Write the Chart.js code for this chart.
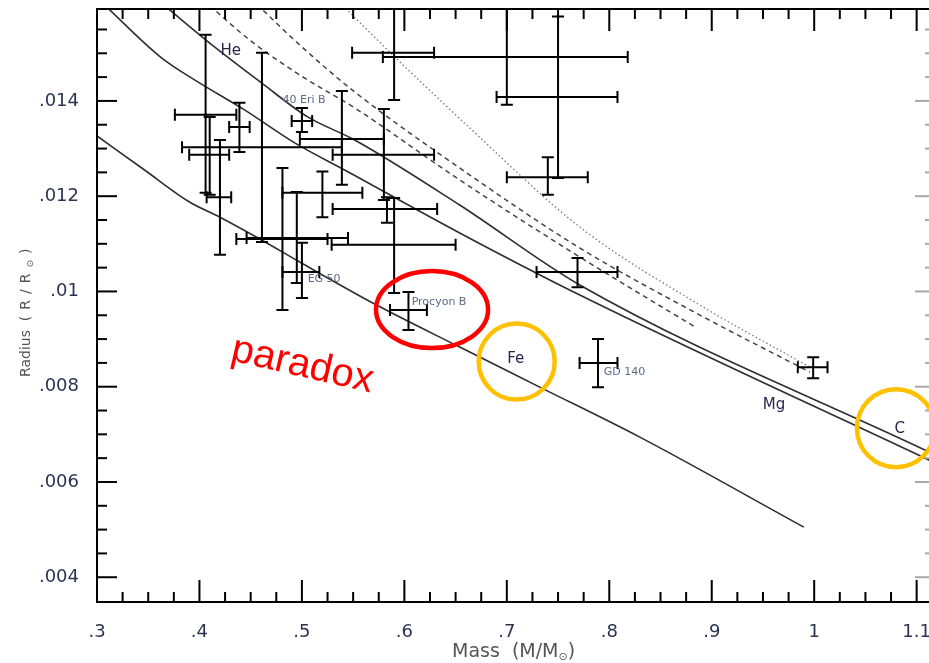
<!DOCTYPE html>
<html>
<head>
<meta charset="utf-8">
<script src="https://cdn.jsdelivr.net/npm/chart.js@4.4.0/dist/chart.umd.min.js"></script>
<style>
  html, body { margin: 0; padding: 0; background: #fff; overflow: hidden; }
</style>
</head>
<body>
<canvas id="mrChart" width="932" height="663"></canvas>
<script>
// tick values and labels
const xTicks = [0.3, 0.4, 0.5, 0.6, 0.7, 0.8, 0.9, 1.0, 1.1];
const xTickLabels = ['.3', '.4', '.5', '.6', '.7', '.8', '.9', '1', '1.1'];
const yTicks = [0.004, 0.006, 0.008, 0.010, 0.012, 0.014];
const yTickLabels = ['.004', '.006', '.008', '.01', '.012', '.014'];

// theoretical mass-radius curves (mass in M_sun, radius in R_sun)
const cMass = [0.366, 0.4147, 0.4606, 0.5056, 0.5515, 0.654, 0.7712, 1.115];
const cRadius = [0.01600, 0.015134, 0.014378, 0.013664, 0.013181, 0.011815, 0.010135, 0.00660];
const mgMass = [0.308, 0.363, 0.3952, 0.444, 0.4929, 0.5417, 0.654, 0.7712, 1.115];
const mgRadius = [0.01600, 0.014903, 0.014441, 0.013811, 0.013118, 0.012550, 0.011227, 0.009924, 0.00643];
const feMass = [0.3, 0.3464, 0.3903, 0.4196, 0.4606, 0.4978, 0.5729, 0.654, 0.7321, 0.8298, 0.9899];
const feRadius = [0.013265, 0.012550, 0.011878, 0.011563, 0.011080, 0.010618, 0.009714, 0.008832, 0.007992, 0.006941, 0.005051];
// dashed and dotted (warm models)
const hotAMass = [0.456, 0.4978, 0.5515, 0.654, 0.7712, 0.8884, 0.9958];
const hotARadius = [0.01603, 0.015176, 0.014189, 0.012592, 0.010912, 0.009504, 0.008307];
const hotBMass = [0.410, 0.4489, 0.4978, 0.5515, 0.654, 0.7712, 0.8855];
const hotBRadius = [0.01600, 0.015281, 0.014546, 0.013853, 0.012340, 0.010723, 0.009231];
const dotMass = [0.540, 0.5856, 0.6638, 0.7712, 0.8884, 0.9958];
const dotRadius = [0.01600, 0.015029, 0.013433, 0.011353, 0.009714, 0.008412];

// observed white dwarfs with error bars
const starMass = [0.406, 0.439, 0.410, 0.420, 0.461, 0.481, 0.495, 0.500, 0.520, 0.539, 0.500, 0.580, 0.583, 0.590, 0.590, 0.700, 0.750, 0.740, 0.604, 0.769, 0.789, 0.999];
const starRadius = [0.01371, 0.01345, 0.01287, 0.01198, 0.01303, 0.01110, 0.01112, 0.01041, 0.01207, 0.01320, 0.01358, 0.01287, 0.01173, 0.01098, 0.01501, 0.01492, 0.01408, 0.01240, 0.00961, 0.01041, 0.00850, 0.00841];
const starMassLo = [0.376, 0.429, 0.390, 0.407, 0.383, 0.436, 0.446, 0.481, 0.481, 0.498, 0.490, 0.530, 0.530, 0.529, 0.549, 0.579, 0.690, 0.700, 0.586, 0.729, 0.771, 0.984];
const starMassHi = [0.436, 0.449, 0.429, 0.431, 0.539, 0.525, 0.545, 0.517, 0.559, 0.580, 0.510, 0.629, 0.632, 0.650, 0.629, 0.818, 0.808, 0.779, 0.622, 0.808, 0.808, 1.013];
const starRadiusLo = [0.01207, 0.01293, 0.01203, 0.01077, 0.01104, 0.00961, 0.01018, 0.00986, 0.01156, 0.01224, 0.01335, 0.01192, 0.01144, 0.00997, 0.01402, 0.01392, 0.01238, 0.01203, 0.00919, 0.01009, 0.00799, 0.00818];
const starRadiusHi = [0.01539, 0.01396, 0.01366, 0.01318, 0.01501, 0.01259, 0.01209, 0.01102, 0.01252, 0.01421, 0.01385, 0.01383, 0.01198, 0.01196, 0.0163, 0.0163, 0.01577, 0.01282, 0.00999, 0.01070, 0.00900, 0.00862];

// star names (left edge / vertical middle of the text)
const starNames = ['40 Eri B', 'EG 50', 'Procyon B', 'GD 140'];
const starNameMass = [0.481, 0.5056, 0.6071, 0.7946];
const starNameRadius = [0.01402, 0.01026, 0.00978, 0.00831];

// composition labels (centre of text)
const curveNames = ['He', 'Fe', 'Mg', 'C'];
const curveNameMass = [0.4306, 0.7087, 0.9607, 1.0836];
const curveNameRadius = [0.01505, 0.00858, 0.00762, 0.00711];

// hand-drawn annotations
const ringMass = [0.627, 0.7096, 1.0798];
const ringRadius = [0.00962, 0.008527, 0.00713];
const ringHalfMass = [0.0547, 0.0371, 0.0381];
const ringHalfRadius = [0.000809, 0.000798, 0.000819];
const ringColors = ['#ff0000', '#ffc000', '#ffc000'];
const noteText = 'paradox';
const noteMass = 0.4294;
const noteRadius = 0.00856;

function pts(ms, rs) {
    return ms.map((m, i) => ({ x: m, y: rs[i] }));
}

function curve(ms, rs, color, dash, width) {
    return {
        data: pts(ms, rs),
        showLine: true,
        pointRadius: 0,
        borderColor: color,
        borderWidth: width,
        borderDash: dash,
        cubicInterpolationMode: 'monotone',
        fill: false
    };
}

// draw frame, inward ticks, error bars, labels and annotations
const decor = {
    id: 'decor',
    afterDatasetsDraw(chart) {
        const { ctx, chartArea: a, scales: { x, y } } = chart;

        // error bars
        ctx.save();
        ctx.beginPath();
        ctx.rect(a.left, a.top, a.right - a.left, a.bottom - a.top);
        ctx.clip();
        ctx.strokeStyle = '#000';
        ctx.lineWidth = 2;
        const cap = 6;
        for (let i = 0; i < starMass.length; i++) {
            const px = x.getPixelForValue(starMass[i]);
            const py = y.getPixelForValue(starRadius[i]);
            const x0 = x.getPixelForValue(starMassLo[i]);
            const x1 = x.getPixelForValue(starMassHi[i]);
            const y0 = y.getPixelForValue(starRadiusHi[i]);
            const y1 = y.getPixelForValue(starRadiusLo[i]);
            ctx.beginPath();
            ctx.moveTo(x0, py); ctx.lineTo(x1, py);
            ctx.moveTo(px, y0); ctx.lineTo(px, y1);
            ctx.moveTo(x0, py - cap); ctx.lineTo(x0, py + cap);
            ctx.moveTo(x1, py - cap); ctx.lineTo(x1, py + cap);
            ctx.moveTo(px - cap, y0); ctx.lineTo(px + cap, y0);
            ctx.moveTo(px - cap, y1); ctx.lineTo(px + cap, y1);
            ctx.stroke();
        }
        ctx.restore();

        // frame
        ctx.save();
        ctx.strokeStyle = '#000';
        ctx.lineWidth = 2;
        ctx.beginPath();
        ctx.moveTo(a.right + 2, a.top); ctx.lineTo(a.left, a.top);
        ctx.lineTo(a.left, a.bottom); ctx.lineTo(a.right + 2, a.bottom);
        ctx.stroke();

        // x ticks, top and bottom
        const nx = Math.round((x.max - x.min) / 0.025);
        for (let k = 1; k <= nx; k++) {
            const v = x.min + k * 0.025;
            const major = k % 4 === 0;
            const len = major ? 22 : 10;
            const px = x.getPixelForValue(v);
            ctx.beginPath();
            ctx.moveTo(px, a.bottom); ctx.lineTo(px, a.bottom - len);
            ctx.moveTo(px, a.top); ctx.lineTo(px, a.top + len);
            ctx.stroke();
        }
        // y ticks, left black and right grey
        const ny = Math.round((y.max - 0.0035) / 0.0005);
        for (let k = 0; k <= ny; k++) {
            const v = 0.0035 + k * 0.0005;
            const major = k % 4 === 1 && v < 0.0145;
            const py = y.getPixelForValue(v);
            if (py < a.top + 2 || py > a.bottom - 2) continue;
            ctx.strokeStyle = '#000';
            ctx.beginPath();
            ctx.moveTo(a.left, py); ctx.lineTo(a.left + (major ? 20 : 10), py);
            ctx.stroke();
            ctx.strokeStyle = '#a8a8a8';
            ctx.beginPath();
            ctx.moveTo(a.right, py); ctx.lineTo(a.right - (major ? 16 : 6), py);
            ctx.stroke();
        }
        ctx.restore();

        // star names
        ctx.save();
        ctx.font = '11px "DejaVu Sans"';
        ctx.fillStyle = '#5d6a88';
        ctx.textAlign = 'left';
        ctx.textBaseline = 'middle';
        starNames.forEach((s, i) => {
            ctx.fillText(s, x.getPixelForValue(starNameMass[i]), y.getPixelForValue(starNameRadius[i]));
        });
        // composition labels
        ctx.font = '15px "DejaVu Sans"';
        ctx.fillStyle = '#26264a';
        ctx.textAlign = 'center';
        curveNames.forEach((s, i) => {
            ctx.fillText(s, x.getPixelForValue(curveNameMass[i]), y.getPixelForValue(curveNameRadius[i]));
        });
        ctx.restore();

        // axis titles
        ctx.save();
        ctx.fillStyle = '#555';
        ctx.textBaseline = 'alphabetic';
        ctx.font = '19px "DejaVu Sans"';
        let tx = 452, ty = 657;
        const part1 = 'Mass  (M/M';
        ctx.fillText(part1, tx, ty);
        tx += ctx.measureText(part1).width;
        ctx.font = '11px "DejaVu Sans"';
        ctx.fillText('\u2299', tx, ty + 3);
        tx += ctx.measureText('\u2299').width;
        ctx.font = '19px "DejaVu Sans"';
        ctx.fillText(')', tx, ty);

        ctx.translate(30, 377);
        ctx.rotate(-Math.PI / 2);
        ctx.font = '14px "DejaVu Sans"';
        const part2 = 'Radius  ';
        ctx.fillText(part2, 0, 0);
        let sx = ctx.measureText(part2).width;
        ctx.letterSpacing = '6px';
        ctx.fillText('(R/R', sx, 0);
        sx += ctx.measureText('(R/R').width;
        ctx.font = '9px "DejaVu Sans"';
        ctx.fillText('\u2299', sx, 3);
        sx += ctx.measureText('\u2299').width;
        ctx.font = '14px "DejaVu Sans"';
        ctx.fillText(')', sx, 0);
        ctx.restore();

        // annotations
        ctx.save();
        ctx.lineWidth = 4.5;
        ringMass.forEach((m, i) => {
            const cx = x.getPixelForValue(m);
            const cy = y.getPixelForValue(ringRadius[i]);
            const rx = x.getPixelForValue(m + ringHalfMass[i]) - cx;
            const ry = cy - y.getPixelForValue(ringRadius[i] + ringHalfRadius[i]);
            ctx.strokeStyle = ringColors[i];
            ctx.beginPath();
            ctx.ellipse(cx, cy, rx, ry, 0, 0, Math.PI * 2);
            ctx.stroke();
        });
        ctx.translate(x.getPixelForValue(noteMass), y.getPixelForValue(noteRadius));
        ctx.rotate(13 * Math.PI / 180);
        ctx.font = '40px "Liberation Sans"';
        ctx.fillStyle = '#ff0000';
        ctx.fillText(noteText, 0, 0);
        ctx.restore();
    }
};

// cancel the automatic label overhang padding so the plot box sits where the original does
function noOverhang(s) {
    s.paddingTop = 0;
    s.paddingBottom = 0;
    s.paddingLeft = 0;
    s.paddingRight = 0;
}

const ctx = document.getElementById('mrChart').getContext('2d');
new Chart(ctx, {
    type: 'scatter',
    data: {
        datasets: [
            curve(cMass, cRadius, '#2e2e2e', [], 1.6),
            curve(mgMass, mgRadius, '#2e2e2e', [], 1.6),
            curve(feMass, feRadius, '#2e2e2e', [], 1.6),
            curve(hotAMass, hotARadius, '#444', [5, 4], 1.5),
            curve(hotBMass, hotBRadius, '#444', [5, 4], 1.5),
            curve(dotMass, dotRadius, '#777', [1.5, 2.5], 1.3)
        ]
    },
    options: {
        responsive: false,
        animation: false,
        layout: { padding: { top: 9, right: 1, left: 0, bottom: 0 } },
        plugins: {
            legend: { display: false },
            tooltip: { enabled: false }
        },
        scales: {
            x: {
                type: 'linear',
                min: 0.3,
                max: 1.114,
                afterBuildTicks: s => { s.ticks = xTicks.map(v => ({ value: v })); },
                afterFit: s => { s.height = 61; noOverhang(s); },
                grid: { display: false },
                border: { display: false },
                ticks: {
                    callback: (v, i) => xTickLabels[i],
                    font: { family: 'DejaVu Sans', size: 18 },
                    color: '#2b3352',
                    padding: 12,
                    maxRotation: 0,
                    autoSkip: false
                }
            },
            y: {
                type: 'linear',
                min: 0.00348,
                max: 0.01593,
                afterBuildTicks: s => { s.ticks = yTicks.map(v => ({ value: v })); },
                afterFit: s => { s.width = 97; noOverhang(s); },
                grid: { display: false },
                border: { display: false },
                ticks: {
                    callback: (v, i) => yTickLabels[i],
                    font: { family: 'DejaVu Sans', size: 18 },
                    color: '#2b3352',
                    padding: 10,
                    autoSkip: false
                }
            }
        }
    },
    plugins: [decor]
});
</script>
</body>
</html>
